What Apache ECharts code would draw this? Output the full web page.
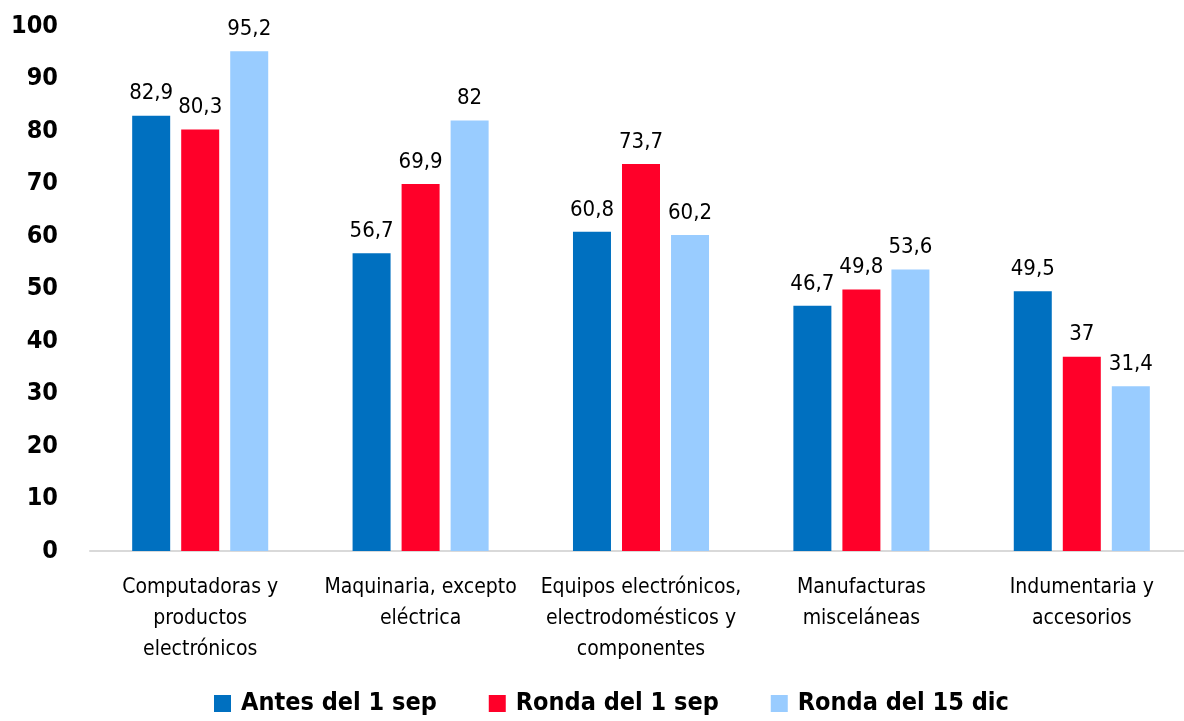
<!DOCTYPE html>
<html>
<head>
<meta charset="utf-8">
<script src="https://cdn.jsdelivr.net/npm/echarts@6/dist/echarts.min.js"></script>
<style>
  html, body { margin: 0; padding: 0; background: #fff; overflow: hidden; }
  /* el eje sigue más allá del borde derecho, como en el original */
  #chart { width: 1192px; height: 721px; }
</style>
</head>
<body>
<div id="chart"></div>
<script>
// 数据
const categories = ['Computadoras y\nproductos\nelectrónicos', 'Maquinaria, excepto\neléctrica', 'Equipos electrónicos,\nelectrodomésticos y\ncomponentes', 'Manufacturas\nmisceláneas', 'Indumentaria y\naccesorios'];
const antes = [82.9, 56.7, 60.8, 46.7, 49.5];
const ronda1sep = [80.3, 69.9, 73.7, 49.8, 37];
const ronda15dic = [95.2, 82, 60.2, 53.6, 31.4];
const seriesNames = ['Antes del 1 sep', 'Ronda del 1 sep', 'Ronda del 15 dic'];
const colors = ['#0070C0', '#FF0029', '#99CCFF'];

const font = '"Liberation Sans Narrow", "DejaVu Sans Condensed", "Liberation Sans", sans-serif';

function fmt(v) { return String(v).replace('.', ','); }

const chart = echarts.init(document.getElementById('chart'));
chart.setOption({
    animation: false,
    textStyle: { fontFamily: font },
    grid: { left: 90, right: 0, top: 26, bottom: 170, containLabel: false },
    legend: {
        top: 686,
        left: 209,
        itemWidth: 17, itemHeight: 17, itemGap: 52,
        icon: 'rect',
        textStyle: { fontFamily: font, fontSize: 25, fontWeight: 'bold', color: '#000', padding: [0, 0, 0, 5] },
        data: seriesNames
    },
    xAxis: {
        type: 'category',
        data: categories,
        axisLine: { lineStyle: { color: '#D9D9D9', width: 2 } },
        axisTick: { show: false },
        axisLabel: { fontFamily: font, fontSize: 21, color: '#000', lineHeight: 31, margin: 21, interval: 0 }
    },
    yAxis: {
        type: 'value',
        min: 0, max: 100, interval: 10,
        splitLine: { show: false },
        axisLine: { show: false },
        axisTick: { show: false },
        axisLabel: { fontFamily: font, fontSize: 25, fontWeight: 'bold', color: '#000', margin: 32 }
    },
    series: [antes, ronda1sep, ronda15dic].map((d, i) => ({
        name: seriesNames[i],
        type: 'bar',
        data: d,
        barWidth: 38,
        barGap: '29%',
        itemStyle: { color: colors[i] },
        label: { show: true, position: 'top', distance: 11, formatter: p => fmt(p.value), fontFamily: font, fontSize: 22, color: '#000' }
    }))
});
</script>
</body>
</html>
